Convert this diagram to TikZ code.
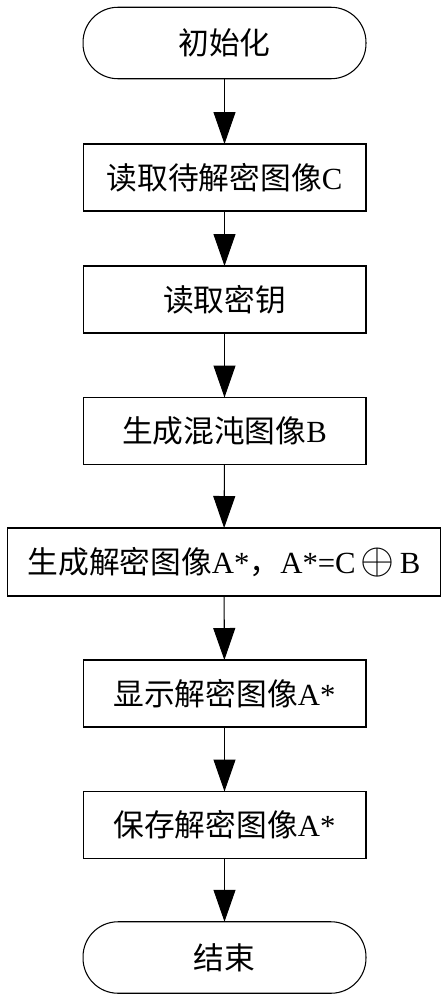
\documentclass[tikz,border=0pt]{standalone}
\usepackage{fontspec}
\setmainfont{Liberation Serif}
\newfontfamily\cjk{Noto Sans CJK SC}
\usetikzlibrary{arrows.meta}
\begin{document}
\begin{tikzpicture}[x=0.02cm,y=-0.02cm,
  base/.style={draw=black,line width=0.6pt,inner sep=0pt,outer sep=0pt,
    font=\fontsize{17.5}{20}\selectfont,text=black},
  procbox/.style={base,rectangle,minimum width=5.66cm,minimum height=1.34cm},
  widebox/.style={base,rectangle,minimum width=8.68cm,minimum height=1.36cm},
  termbox/.style={base,rectangle,rounded corners=0.7cm,minimum width=5.66cm,minimum height=1.43cm},
  flow/.style={draw=black,line width=0.6pt,-{Triangle[width=0.44cm,length=0.64cm]}}]
\useasboundingbox (0,0) rectangle (445,1000);
\node[termbox] (start) at (224.5,43) {\cjk 初始化};
\node[procbox] (b1) at (224.5,177.5) {{\cjk 读取待解密图像}C};
\node[procbox] (b2) at (224.5,299.5) {\cjk 读取密钥};
\node[procbox] (b3) at (224.5,431) {{\cjk 生成混沌图像}B};
\node[widebox] (b4) at (224,562) {{\cjk 生成解密图像}A*{\cjk ，}A*=C\,{\fontsize{24}{24}\selectfont$\oplus$}\,B};
\node[procbox] (b5) at (224.5,693.5) {{\cjk 显示解密图像}A*};
\node[procbox] (b6) at (224.5,825) {{\cjk 保存解密图像}A*};
\node[termbox] (end) at (224.5,957.5) {\cjk 结束};
\draw[flow] (start) -- (b1);
\draw[flow] (b1) -- (b2);
\draw[flow] (b2) -- (b3);
\draw[flow] (b3) -- (b4);
\draw[flow] (b4) -- (b5);
\draw[flow] (b5) -- (b6);
\draw[flow] (b6) -- (end);
\end{tikzpicture}
\end{document}
